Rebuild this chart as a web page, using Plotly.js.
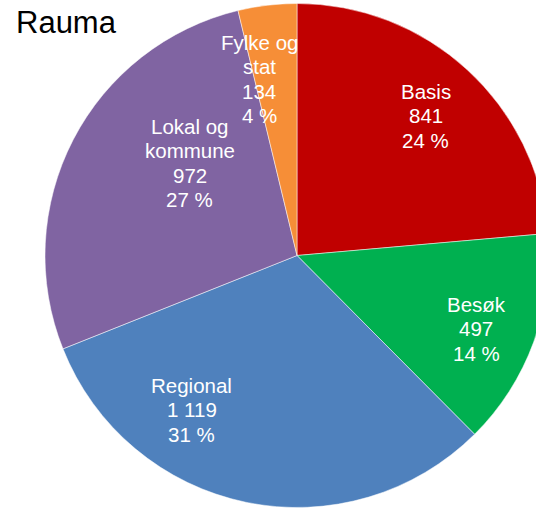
<!DOCTYPE html>
<html>
<head>
<meta charset="utf-8">
<script src="https://cdn.plot.ly/plotly-3.0.1.min.js"></script>
<style>
html,body{margin:0;padding:0;overflow:hidden;background:#fff;width:536px;height:508px;}
#chart{width:560px;height:508px;}
</style>
</head>
<body>
<div id="chart"></div>
<script>
const categories = ["Basis", "Besøk", "Regional", "Lokal og kommune", "Fylke og stat"];
const labelLines = [["Basis"], ["Besøk"], ["Regional"], ["Lokal og", "kommune"], ["Fylke og", "stat"]];
const values = [841, 497, 1119, 972, 134];
const colors = ["#C00000", "#00B050", "#4F81BD", "#8064A2", "#F68E37"];

// label placement (style): angular nudge (deg) from slice middle, radial fraction
const labelAngleNudge = [0.2, 2.2, 22.5, 13.4, -5.3];
const labelRadius = [0.755, 0.768, 0.741, 0.561, 0.716];

const W = 560, H = 508;
const M = {l: 45, r: 11, t: 3, b: 0};
const plotW = W - M.l - M.r, plotH = H - M.t - M.b;
const R = Math.min(plotW, plotH) / 2;
const cx = M.l + plotW / 2, cy = M.t + plotH / 2;

const total = values.reduce((a, b) => a + b, 0);
function fmt(n) { return String(n).replace(/\B(?=(\d{3})+(?!\d))/g, " "); }

const annotations = [];
const fontL = {family: "Liberation Sans, Arial, sans-serif", size: 20.5, color: "#ffffff"};
const lineH = 24.5;
let cum = 0;
values.forEach((v, i) => {
  const mid = (cum + v / 2) / total * 360 + labelAngleNudge[i];
  cum += v;
  const a = mid * Math.PI / 180;
  const px = cx + Math.sin(a) * R * labelRadius[i];
  const py = cy - Math.cos(a) * R * labelRadius[i];
  const lines = labelLines[i].concat([fmt(v), Math.round(v / total * 100) + " %"]);
  const n = lines.length;
  lines.forEach((t, j) => {
    annotations.push({
      x: (px - M.l) / plotW,
      y: 1 - (py - M.t) / plotH,
      xref: "paper", yref: "paper",
      xanchor: "center", yanchor: "middle",
      yshift: ((n - 1) / 2 - j) * lineH,
      text: t, showarrow: false, font: fontL
    });
  });
});

const trace = {
  type: "pie",
  labels: categories,
  values: values,
  textinfo: "none",
  hoverinfo: "none",
  sort: false,
  direction: "clockwise",
  rotation: 0,
  marker: {colors: colors, line: {color: "#ffffff", width: 0.5}},
  domain: {x: [0, 1], y: [0, 1]}
};

const layout = {
  width: W,
  height: H,
  margin: M,
  showlegend: false,
  paper_bgcolor: "#ffffff",
  annotations: annotations,
  title: {
    text: "Rauma",
    font: {family: "Liberation Sans, Arial, sans-serif", size: 31, color: "#000000"},
    x: 16 / W, xanchor: "left", xref: "container",
    y: 1 - 22 / H, yanchor: "middle", yref: "container"
  }
};

Plotly.newPlot("chart", [trace], layout, {displayModeBar: false, staticPlot: true});
</script>
</body>
</html>
